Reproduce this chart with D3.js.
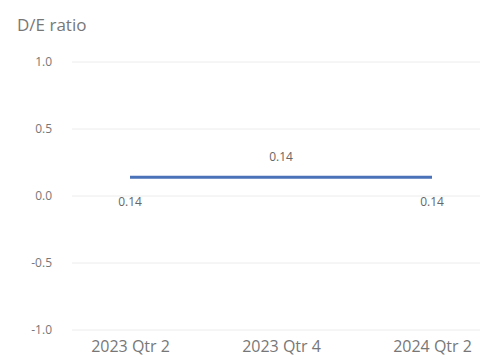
<!DOCTYPE html>
<html><head><meta charset="utf-8">
<script src="https://cdn.jsdelivr.net/npm/d3@7"></script>
<style>body{margin:0;background:#fff;}text{font-family:"Open Sans","Noto Sans",sans-serif;}</style>
</head><body>
<svg id="c" width="482" height="360"></svg>
<script>
const quarters = ["2023 Qtr 2","2023 Qtr 3","2023 Qtr 4","2024 Qtr 1","2024 Qtr 2"];
const deRatio = [0.14,0.14,0.14,0.14,0.14];
const labelled = ["2023 Qtr 2","2023 Qtr 4","2024 Qtr 2"];
const yTicks = [1.0,0.5,0.0,-0.5,-1.0];

const svg = d3.select("#c");
const x = d3.scalePoint().domain(quarters).range([130,432]);
const y = d3.scaleLinear().domain([-1,1]).range([330,62]);

svg.append("text").attr("x",17).attr("y",31).attr("font-size",17).attr("fill","#777").text("D/E ratio");

const grid = svg.append("g");
grid.selectAll("line").data(yTicks).join("line")
  .attr("x1",72).attr("x2",480).attr("y1",d=>y(d)).attr("y2",d=>y(d))
  .attr("stroke","#ececec").attr("stroke-width",1);

const yAxis = svg.append("g").attr("transform","translate(52,0)")
  .call(d3.axisLeft(y).tickValues(yTicks).tickFormat(d=>d.toFixed(1)).tickSize(0).tickPadding(0));
yAxis.select(".domain").remove();
yAxis.selectAll("text").attr("font-size",12).attr("fill","#777").attr("font-family","'Open Sans',sans-serif").attr("dy","0.32em");

const xAxis = svg.append("g").attr("transform","translate(0,341)")
  .call(d3.axisBottom(x).tickValues(labelled).tickSize(0).tickPadding(0));
xAxis.select(".domain").remove();
xAxis.selectAll("text").attr("font-size",16).attr("fill","#777").attr("font-family","'Open Sans',sans-serif").attr("dy","0.71em");

const line = d3.line().x((d,i)=>x(quarters[i])).y(d=>y(d));
svg.append("path").datum(deRatio).attr("d",line).attr("fill","none")
  .attr("stroke","#4a72b8").attr("stroke-width",3);

const idx = quarters.map((q,i)=>i).filter(i=>labelled.includes(quarters[i]));
svg.selectAll(".lbl").data(idx).join("text").attr("class","lbl")
  .attr("x",i=>x(quarters[i]))
  .attr("y",(i,k)=> k===1 ? y(deRatio[i])-16 : y(deRatio[i])+29)
  .attr("text-anchor","middle").attr("font-size",12).attr("fill","#666")
  .text(i=>d3.format(".2f")(deRatio[i]));
</script>
</body></html>
